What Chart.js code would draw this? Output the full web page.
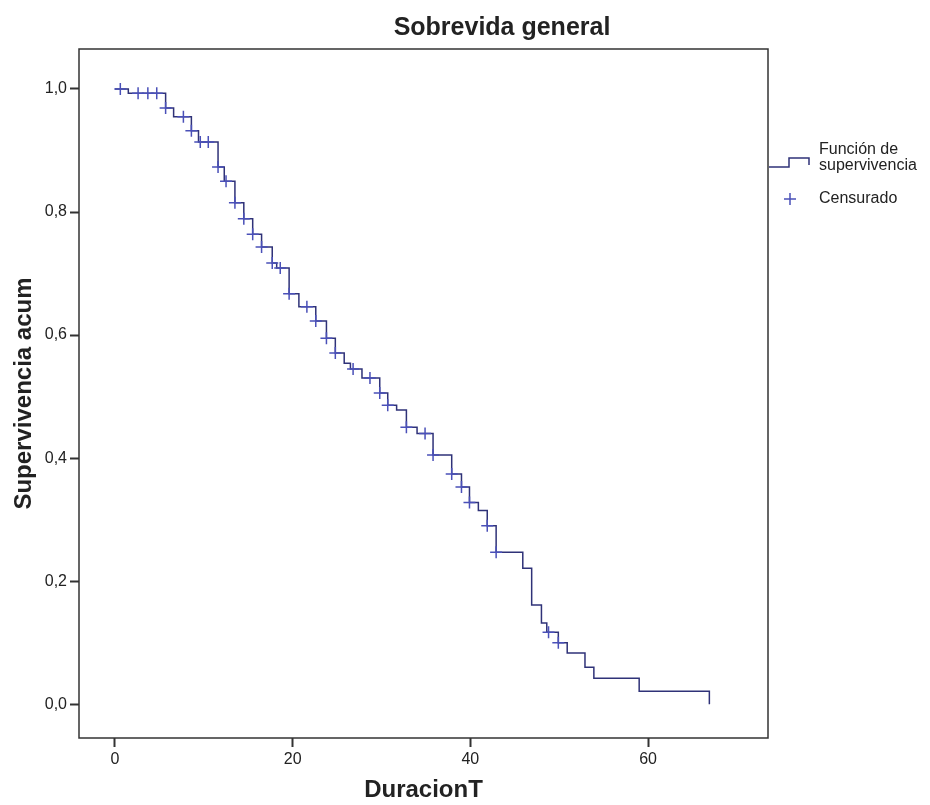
<!DOCTYPE html>
<html>
<head>
<meta charset="utf-8">
<title>Sobrevida general</title>
<script src="https://cdn.jsdelivr.net/npm/chart.js@4.4.1/dist/chart.umd.min.js"></script>
<style>
  html, body { margin: 0; padding: 0; background: #fff; }
  #wrap { width: 930px; height: 805px; }
</style>
</head>
<body>
<div id="wrap"><canvas id="chart" width="930" height="805"></canvas></div>
<script>
// Kaplan-Meier steps: time of each drop and survival after it
const eventTimes = [0, 1.5, 5.7, 6.6, 8.6, 9.4, 11.6, 12.3, 13.5, 14.5,
  15.5, 16.5, 17.7, 18.2, 19.6, 20.7, 22.6, 23.8, 24.8, 25.8,
  26.5, 27.8, 29.8, 30.7, 31.7, 32.8, 34.0, 35.8, 37.9, 39.0,
  39.9, 40.9, 41.9, 42.9, 45.9, 46.9, 48.0, 48.6, 49.9, 50.9,
  52.9, 53.9, 59.0, 66.9];
const survival = [1.0, 0.993, 0.969, 0.955, 0.932, 0.914, 0.873, 0.85, 0.815, 0.789,
  0.764, 0.743, 0.717, 0.709, 0.667, 0.646, 0.623, 0.595, 0.571, 0.554,
  0.545, 0.53, 0.506, 0.486, 0.478, 0.45, 0.44, 0.405, 0.374, 0.353,
  0.328, 0.315, 0.29, 0.247, 0.221, 0.161, 0.132, 0.117, 0.1, 0.083,
  0.06, 0.042, 0.021, 0.0];
// censored observations (times)
const censorTimes = [0.6, 2.6, 3.7, 4.7, 5.7, 7.7, 8.6, 9.6, 10.5, 11.6,
  12.5, 13.5, 14.5, 15.5, 16.5, 17.7, 18.6, 19.6, 21.6, 22.6,
  23.8, 24.8, 26.8, 28.7, 29.8, 30.7, 32.8, 34.9, 35.8, 37.9,
  39.0, 39.9, 41.9, 42.9, 48.8, 49.9];
const xTicks = [0, 20, 40, 60];
const yTicks = [0, 0.2, 0.4, 0.6, 0.8, 1.0];

const lineColor = "#2f3278";
const crossColor = "#4a50b8";
const textColor = "#222";
const fontFamily = "'Liberation Sans', Arial, sans-serif";

function survivalAt(t) {
  let s = survival[0];
  for (let i = 0; i < eventTimes.length; i++) {
    if (eventTimes[i] <= t) s = survival[i];
  }
  return s;
}

const curve = eventTimes.map((t, i) => ({ x: t, y: survival[i] }));
const censored = censorTimes.map(t => ({ x: t, y: survivalAt(t) }));

// title, frame and legend drawn by hand
const decorations = {
  id: "decorations",
  afterDraw(chart) {
    const { ctx, chartArea: a } = chart;
    ctx.save();

    // frame round the plot
    ctx.strokeStyle = "#333";
    ctx.lineWidth = 1.5;
    ctx.strokeRect(a.left, a.top, a.right - a.left, a.bottom - a.top);

    // title
    ctx.fillStyle = textColor;
    ctx.font = "bold 25px " + fontFamily;
    ctx.textAlign = "center";
    ctx.textBaseline = "middle";
    ctx.fillText("Sobrevida general", 502, 28);

    // legend: step symbol
    ctx.strokeStyle = lineColor;
    ctx.lineWidth = 1.5;
    ctx.beginPath();
    ctx.moveTo(a.right + 1, 167);
    ctx.lineTo(789, 167);
    ctx.lineTo(789, 158);
    ctx.lineTo(809, 158);
    ctx.lineTo(809, 165);
    ctx.stroke();

    // legend: cross
    ctx.strokeStyle = crossColor;
    ctx.beginPath();
    ctx.moveTo(784, 199); ctx.lineTo(796, 199);
    ctx.moveTo(790, 193); ctx.lineTo(790, 205);
    ctx.stroke();

    ctx.fillStyle = textColor;
    ctx.font = "16px " + fontFamily;
    ctx.textAlign = "left";
    ctx.fillText("Función de", 819, 150);
    ctx.fillText("supervivencia", 819, 166);
    ctx.fillText("Censurado", 819, 199);

    ctx.restore();
  }
};

Chart.defaults.font.family = fontFamily;

new Chart(document.getElementById("chart"), {
  type: "line",
  data: {
    datasets: [
      {
        label: "Función de supervivencia",
        data: curve,
        stepped: "before",
        borderColor: lineColor,
        borderWidth: 1.5,
        pointRadius: 0,
        fill: false,
        order: 2
      },
      {
        label: "Censurado",
        data: censored,
        showLine: false,
        pointStyle: "cross",
        pointRadius: 6,
        pointBorderWidth: 1.5,
        borderColor: crossColor,
        order: 1
      }
    ]
  },
  options: {
    responsive: false,
    animation: false,
    devicePixelRatio: 1,
    layout: { padding: { left: 0, top: 49, right: 162, bottom: 0 } },
    plugins: {
      legend: { display: false },
      tooltip: { enabled: false },
      title: { display: false }
    },
    scales: {
      x: {
        type: "linear",
        min: -4.05,
        max: 73.5,
        afterBuildTicks: s => { s.ticks = xTicks.map(v => ({ value: v })); },
        afterFit: s => { s.height = 67; },
        grid: { drawOnChartArea: false, drawTicks: true, tickLength: 9, tickWidth: 2, tickColor: "#333" },
        border: { display: false },
        ticks: { font: { size: 16 }, color: textColor, padding: 3, maxRotation: 0, autoSkip: false },
        title: { display: true, text: "DuracionT", color: textColor, font: { size: 24, weight: "bold" }, padding: { top: 0, bottom: 0 } }
      },
      y: {
        type: "linear",
        min: -0.055,
        max: 1.065,
        afterBuildTicks: s => { s.ticks = yTicks.map(v => ({ value: v })); },
        afterFit: s => { s.width = 79; },
        grid: { drawOnChartArea: false, drawTicks: true, tickLength: 9, tickWidth: 2, tickColor: "#333" },
        border: { display: false },
        ticks: {
          font: { size: 16 }, color: textColor, padding: 3, autoSkip: false,
          callback: v => v.toFixed(1).replace(".", ",")
        },
        title: { display: true, text: "Supervivencia acum", color: textColor, font: { size: 24, weight: "bold" }, padding: { top: 10, bottom: 0 } }
      }
    }
  },
  plugins: [decorations]
});
</script>
</body>
</html>
